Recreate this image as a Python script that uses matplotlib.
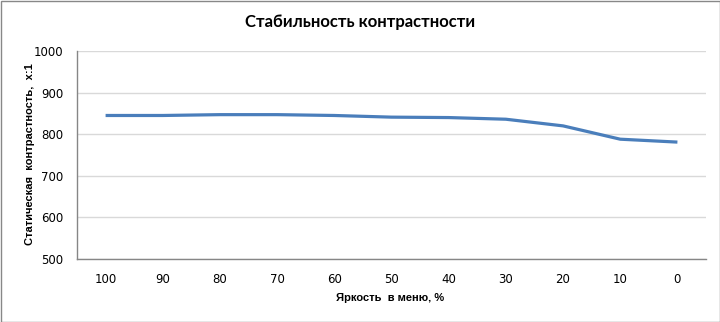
import matplotlib
matplotlib.use("Agg")
import matplotlib.pyplot as plt
from matplotlib.patches import Rectangle

categories = ["100", "90", "80", "70", "60", "50", "40", "30", "20", "10", "0"]
values = [845, 845, 847, 847, 845, 841, 840, 836, 820, 788, 781]
yticks = [500, 600, 700, 800, 900, 1000]

title = "Стабильность контрастности"
xlabel = "Яркость  в меню, %"
ylabel = "Статическая  контрастность,  x:1"

fig = plt.figure(figsize=(7.2, 3.22), dpi=100)
ax = fig.add_axes([77/720, 1-259/322, (706-77)/720, (259-51)/322])

x = list(range(len(categories)))
ax.plot(x, values, color="#4A7EBB", lw=2.3, solid_capstyle="butt", zorder=3)

ax.set_xlim(-0.5, len(categories)-0.5)
ax.set_ylim(500, 1000)
ax.set_yticks(yticks)
ax.set_xticks(x)
ax.set_xticklabels(categories)
ax.grid(axis="y", color="#D9D9D9", lw=1)
ax.set_axisbelow(True)
for s in ["top", "right"]:
    ax.spines[s].set_visible(False)
for s in ["left", "bottom"]:
    ax.spines[s].set_color("#868686")
    ax.spines[s].set_linewidth(1)
ax.tick_params(length=0, labelsize=8.5, colors="black")
ax.tick_params(axis="x", pad=10)
ax.tick_params(axis="y", pad=10)
for lab in ax.get_xticklabels() + ax.get_yticklabels():
    lab.set_fontfamily("DejaVu Sans")

fig.text(360/720, 1-22/322, title, ha="center", va="center", fontsize=12,
         fontweight="bold", family="Lato")
fig.text(390/720, 1-298/322, xlabel, ha="center", va="center", fontsize=8,
         fontweight="bold", family="Liberation Sans")
fig.text(30/720, 1-154/322, ylabel, ha="center", va="center", fontsize=8,
         fontweight="bold", family="Liberation Sans", rotation=90)

fig.patches.append(Rectangle((0.5/720, 0.5/322), 719/720, 321/322, transform=fig.transFigure,
                             fill=False, edgecolor="#888888", lw=1))

fig.savefig("out.png", dpi=100)
